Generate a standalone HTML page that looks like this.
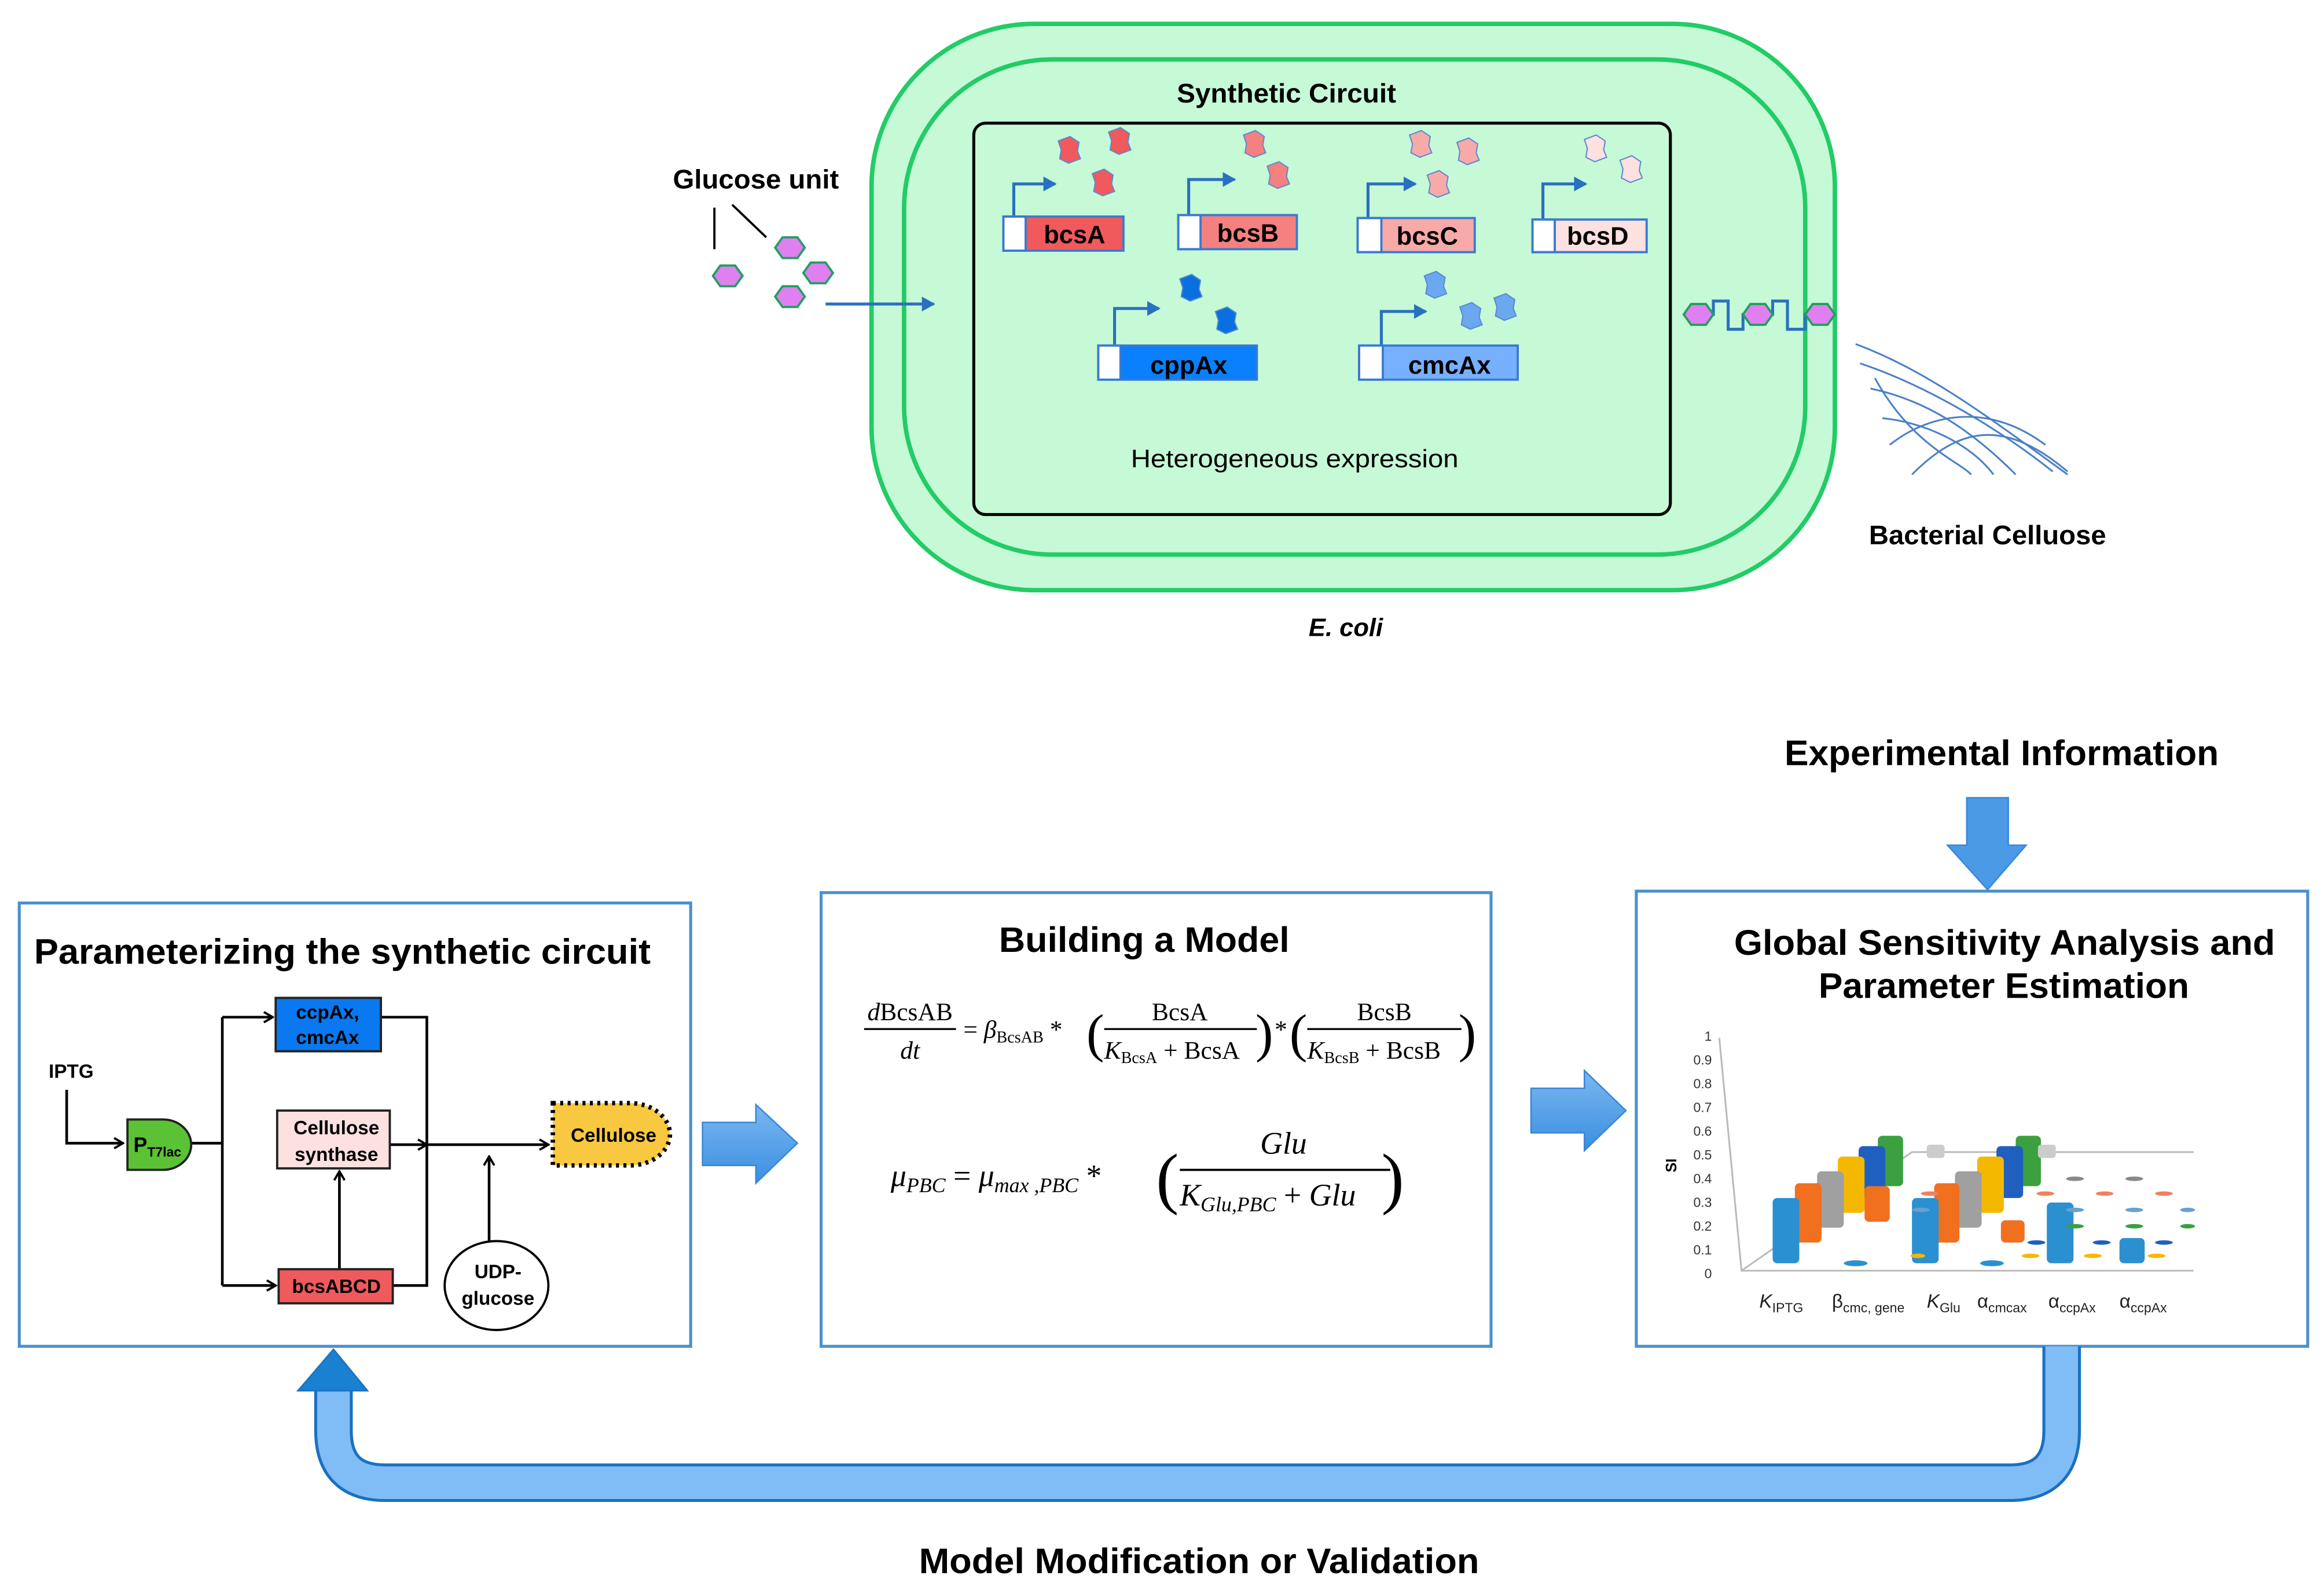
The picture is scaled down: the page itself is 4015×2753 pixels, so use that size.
<!DOCTYPE html>
<html><head><meta charset="utf-8"><style>html,body{margin:0;padding:0;background:#fff}svg{display:block}</style></head>
<body>
<svg xmlns="http://www.w3.org/2000/svg" width="4015" height="2753" viewBox="0 0 1568 1075" font-family="'Liberation Sans', sans-serif">
<defs>
<path id="blob" d="M-7,-6 L1,-9 L7,-5 L6,1 L8,6 L0,9 L-6,6 L-5,0 Z"/>
<polygon id="hex" points="-10,0 -5,-7 5,-7 10,0 5,7 -5,7"/>
<linearGradient id="ba" x1="0" y1="0" x2="0" y2="1"><stop offset="0" stop-color="#7ab8f2"/><stop offset="1" stop-color="#3b8ee0"/></linearGradient>
<linearGradient id="bv" x1="0" y1="0" x2="0" y2="1"><stop offset="0" stop-color="#0a7ad0"/><stop offset="1" stop-color="#88bdf8"/></linearGradient>
<marker id="ah" markerWidth="8" markerHeight="8" refX="7" refY="4" orient="auto" markerUnits="userSpaceOnUse"><path d="M1,0.5 L7,4 L1,7.5" fill="none" stroke="#000" stroke-width="1.5"/></marker>
<marker id="bh" markerWidth="10" markerHeight="10" refX="8" refY="5" orient="auto" markerUnits="userSpaceOnUse"><path d="M0,0 L9,5 L0,10 Z" fill="#2a70c0"/></marker>
</defs>

<!-- Cell -->
<rect x="588" y="16" width="650" height="382" rx="110" fill="#c6f9d6" stroke="#22cc66" stroke-width="3"/>
<rect x="610" y="40" width="608" height="334" rx="100" fill="#c6f9d6" stroke="#22cc66" stroke-width="3"/>
<rect x="657" y="83" width="470" height="264" rx="8" fill="#c6f9d6" stroke="#000" stroke-width="2"/>
<text x="794" y="69" font-size="18" font-weight="bold" textLength="148" lengthAdjust="spacingAndGlyphs">Synthetic Circuit</text>

<!-- promoter arrows -->
<g fill="none" stroke="#2a70c0" stroke-width="2" marker-end="url(#bh)">
<path d="M684,146 V124 H712"/><path d="M802,145 V121 H833"/><path d="M923,147 V124 H955"/><path d="M1041,148 V124 H1070"/>
<path d="M752,233 V208 H782"/><path d="M932,233 V210 H962"/>
</g>
<!-- genes -->
<g stroke="#3a7ad0" stroke-width="1.5">
<rect x="677" y="146" width="81" height="23" fill="#f05a5c"/><rect x="677" y="146" width="15" height="23" fill="#fff"/>
<rect x="795" y="145" width="80" height="23" fill="#f58080"/><rect x="795" y="145" width="15" height="23" fill="#fff"/>
<rect x="916" y="147" width="79" height="23" fill="#f8aaa8"/><rect x="916" y="147" width="16" height="23" fill="#fff"/>
<rect x="1034" y="148" width="77" height="22" fill="#fde0e0"/><rect x="1034" y="148" width="15" height="22" fill="#fff"/>
<rect x="741" y="233" width="107" height="23" fill="#0a80ff"/><rect x="741" y="233" width="15" height="23" fill="#fff"/>
<rect x="917" y="233" width="107" height="23" fill="#77b0ff"/><rect x="917" y="233" width="16" height="23" fill="#fff"/>
</g>
<g font-size="17" font-weight="bold" text-anchor="middle">
<text x="725" y="164">bcsA</text><text x="842" y="163">bcsB</text><text x="963" y="165">bcsC</text><text x="1078" y="165">bcsD</text>
<text x="802" y="252">cppAx</text><text x="978" y="252">cmcAx</text>
</g>
<!-- proteins -->
<g stroke="#5a8ad0" stroke-width="0.8">
<use href="#blob" x="721" y="101" fill="#f05a5c"/><use href="#blob" x="755" y="95" fill="#f05a5c"/><use href="#blob" x="744" y="123" fill="#f05a5c"/>
<use href="#blob" x="846" y="97" fill="#f58080"/><use href="#blob" x="862" y="118" fill="#f58080"/>
<use href="#blob" x="958" y="97" fill="#f8aaa8"/><use href="#blob" x="990" y="102" fill="#f8aaa8"/><use href="#blob" x="970" y="124" fill="#f8aaa8"/>
<use href="#blob" x="1076" y="100" fill="#fde0e0"/><use href="#blob" x="1100" y="114" fill="#fde0e0"/>
<use href="#blob" x="803" y="194" fill="#0a70e0"/><use href="#blob" x="827" y="216" fill="#0a70e0"/>
<use href="#blob" x="968" y="192" fill="#6aa8f0"/><use href="#blob" x="992" y="213" fill="#6aa8f0"/><use href="#blob" x="1015" y="207" fill="#6aa8f0"/>
</g>
<text x="763" y="315" font-size="17" textLength="221" lengthAdjust="spacingAndGlyphs">Heterogeneous expression</text>

<!-- glucose -->
<text x="454" y="127" font-size="18" font-weight="bold" textLength="112" lengthAdjust="spacingAndGlyphs">Glucose unit</text>
<g stroke="#000" stroke-width="1.5"><line x1="482" y1="140" x2="482" y2="168"/><line x1="494" y1="138" x2="517" y2="160"/></g>
<g fill="#e080f0" stroke="#20a060" stroke-width="1.5">
<use href="#hex" x="491" y="186"/><use href="#hex" x="533" y="167"/><use href="#hex" x="552" y="184"/><use href="#hex" x="533" y="200"/>
</g>
<line x1="557" y1="205" x2="630" y2="205" stroke="#2a70c0" stroke-width="2" marker-end="url(#bh)"/>
<path d="M1146,212 H1156 V203 H1166 V222 H1176 V212 H1196 V203 H1206 V222 H1218 V212 H1228" fill="none" stroke="#2a70c0" stroke-width="2"/>
<g fill="#e080f0" stroke="#20a060" stroke-width="1.5"><use href="#hex" x="1146" y="212"/><use href="#hex" x="1186" y="212"/><use href="#hex" x="1228" y="212"/></g>
<g fill="none" stroke="#4a80c8" stroke-width="1.2">
<path d="M1252,232 C1300,250 1340,280 1395,320"/><path d="M1255,245 C1300,260 1350,290 1385,318"/>
<path d="M1262,262 C1300,270 1330,290 1360,320"/><path d="M1270,282 C1300,285 1330,300 1345,320"/>
<path d="M1275,300 C1300,280 1340,270 1380,300"/><path d="M1265,255 C1290,300 1320,310 1330,320"/>
<path d="M1290,320 C1320,290 1350,280 1395,318"/>
</g>
<text x="1261" y="367" font-size="18" font-weight="bold" textLength="160" lengthAdjust="spacingAndGlyphs">Bacterial Celluose</text>
<text x="908" y="429" font-size="17" font-weight="bold" font-style="italic" text-anchor="middle">E. coli</text>

<!-- Bottom boxes -->
<g fill="#fff" stroke="#4a90d0" stroke-width="2">
<rect x="13" y="609" width="453" height="299"/><rect x="554" y="602" width="452" height="306"/><rect x="1104" y="601" width="453" height="307"/>
</g>
<text x="23" y="650" font-size="24" font-weight="bold" textLength="416" lengthAdjust="spacingAndGlyphs">Parameterizing the synthetic circuit</text>
<text x="674" y="642" font-size="24" font-weight="bold" textLength="196" lengthAdjust="spacingAndGlyphs">Building a Model</text>
<text x="1170" y="644" font-size="24" font-weight="bold" textLength="365" lengthAdjust="spacingAndGlyphs">Global Sensitivity Analysis and</text>
<text x="1227" y="673" font-size="24" font-weight="bold" textLength="250" lengthAdjust="spacingAndGlyphs">Parameter Estimation</text>
<text x="1204" y="516" font-size="24" font-weight="bold" textLength="293" lengthAdjust="spacingAndGlyphs">Experimental Information</text>
<text x="620" y="1061" font-size="24" font-weight="bold" textLength="378" lengthAdjust="spacingAndGlyphs">Model Modification or Validation</text>

<!-- block arrows -->
<g fill="url(#ba)" stroke="#3a86d8" stroke-width="1">
<path d="M474,757 H510 V745 L538,771 L510,798 V786 H474 Z"/>
<path d="M1033,734 H1069 V722 L1097,749 L1069,776 V764 H1033 Z"/>
<path d="M1327,538 H1355 V570 H1367 L1341,600 L1314,570 H1327 Z" fill="#4a9ae6"/>
</g>
<!-- feedback arrow -->
<path d="M1391,908 V965 Q1391,1000 1356,1000 H260 Q225,1000 225,965 V935" fill="none" stroke="#1a70c0" stroke-width="26"/>
<path d="M1391,908 V965 Q1391,1000 1356,1000 H260 Q225,1000 225,965 V935" fill="none" stroke="#80bcf6" stroke-width="22"/>
<path d="M1391,908 V950" stroke="url(#bv)" stroke-width="22"/>
<path d="M225,938 V975" stroke="url(#bv)" stroke-width="22"/>
<path d="M201,938 L225,910 L248,938 Z" fill="#1a80d0" stroke="#1a70c0" stroke-width="1"/>

<!-- circuit diagram -->
<g fill="none" stroke="#000" stroke-width="1.8">
<path d="M45,735 V771 H83" marker-end="url(#ah)"/>
<path d="M129,771 H150"/>
<path d="M150,686 V867"/>
<path d="M150,686 H184" marker-end="url(#ah)"/>
<path d="M150,867 H186" marker-end="url(#ah)"/>
<path d="M257,686 H288 V867 H265"/>
<path d="M263,772 H288" marker-end="url(#ah)"/>
<path d="M288,772 H370" marker-end="url(#ah)"/>
<path d="M229,856 V790" marker-end="url(#ah)"/>
<path d="M330,837 V780" marker-end="url(#ah)"/>
</g>
<rect x="186" y="673" width="71" height="36" fill="#0a78f0" stroke="#222" stroke-width="1.5"/>
<rect x="187" y="749" width="76" height="39" fill="#fde0e0" stroke="#222" stroke-width="1.5"/>
<rect x="188" y="856" width="77" height="23" fill="#f05a5c" stroke="#222" stroke-width="1.5"/>
<path d="M86,755 H110 A19,17 0 0 1 110,789 H86 Z" fill="#5bc236" stroke="#222" stroke-width="1.5"/>
<path d="M373,744 H425 A27,21 0 0 1 425,786 H373 Z" fill="#f8c840" stroke="#000" stroke-width="3" stroke-dasharray="2,3"/>
<ellipse cx="335" cy="867" rx="35" ry="30" fill="#fff" stroke="#000" stroke-width="1.5"/>
<g font-size="13" font-weight="bold" text-anchor="middle">
<text x="221" y="687">ccpAx,</text><text x="221" y="704">cmcAx</text>
<text x="227" y="765">Cellulose</text><text x="227" y="783">synthase</text>
<text x="227" y="872">bcsABCD</text>
<text x="414" y="770">Cellulose</text>
<text x="336" y="862">UDP-</text><text x="336" y="880">glucose</text>
<text x="48" y="727">IPTG</text>
</g>
<text x="90" y="777" font-size="14" font-weight="bold">P<tspan font-size="9" dy="3">T7lac</tspan></text>

<!-- equations -->
<g font-family="'Liberation Serif', serif" font-size="17">
<text x="614" y="688" text-anchor="middle"><tspan font-style="italic">d</tspan>BcsAB</text>
<line x1="583" y1="694" x2="645" y2="694" stroke="#000" stroke-width="1.3"/>
<text x="614" y="714" text-anchor="middle" font-style="italic">dt</text>
<text x="650" y="700">= <tspan font-style="italic">β</tspan><tspan font-size="11" dy="3">BcsAB</tspan><tspan dy="-3"> * </tspan></text>
<text x="733" y="709" font-size="36">(</text>
<text x="796" y="688" text-anchor="middle">BcsA</text>
<line x1="745" y1="694" x2="848" y2="694" stroke="#000" stroke-width="1.3"/>
<text x="745" y="714"><tspan font-style="italic">K</tspan><tspan font-size="11" dy="3">BcsA</tspan><tspan dy="-3"> + BcsA</tspan></text>
<text x="847" y="709" font-size="36">)</text>
<text x="860" y="700">*</text>
<text x="870" y="709" font-size="36">(</text>
<text x="934" y="688" text-anchor="middle">BcsB</text>
<line x1="882" y1="694" x2="986" y2="694" stroke="#000" stroke-width="1.3"/>
<text x="882" y="714"><tspan font-style="italic">K</tspan><tspan font-size="11" dy="3">BcsB</tspan><tspan dy="-3"> + BcsB</tspan></text>
<text x="984" y="709" font-size="36">)</text>
<g font-size="21" font-style="italic">
<text x="601" y="800">μ<tspan font-size="14" dy="4">PBC</tspan><tspan dy="-4" font-style="normal"> = </tspan>μ<tspan font-size="14" dy="4">max ,PBC</tspan><tspan dy="-4" font-style="normal"> * </tspan></text>
<text x="780" y="810" font-size="46" font-style="normal">(</text>
<text x="866" y="778" text-anchor="middle">Glu</text>
<line x1="796" y1="789" x2="938" y2="789" stroke="#000" stroke-width="1.5"/>
<text x="796" y="813">K<tspan font-size="14" dy="4">Glu,PBC</tspan><tspan dy="-4" font-style="normal"> + </tspan>Glu</text>
<text x="932" y="810" font-size="46" font-style="normal">)</text>
</g>
</g>

<!-- 3D chart -->
<g font-size="9" fill="#333" text-anchor="end">
<text x="1155" y="702">1</text><text x="1155" y="718">0.9</text><text x="1155" y="734">0.8</text><text x="1155" y="750">0.7</text>
<text x="1155" y="766">0.6</text><text x="1155" y="782">0.5</text><text x="1155" y="798">0.4</text><text x="1155" y="814">0.3</text>
<text x="1155" y="830">0.2</text><text x="1155" y="846">0.1</text><text x="1155" y="862">0</text>
</g>
<text x="1131" y="786" font-size="10" font-weight="bold" transform="rotate(-90 1131 786)" text-anchor="middle">SI</text>
<g stroke="#bbb" stroke-width="1.2" fill="none">
<path d="M1160,700 L1175,857 H1480"/><path d="M1175,857 L1290,777 H1480"/>
</g>
<g stroke="none">
<rect x="1267" y="766" width="17" height="34" rx="3" fill="#3aa040"/><rect x="1360" y="766" width="17" height="34" rx="3" fill="#3aa040"/>
<rect x="1254" y="773" width="18" height="35" rx="3" fill="#1f5fc0"/><rect x="1347" y="773" width="18" height="35" rx="3" fill="#1f5fc0"/>
<rect x="1240" y="780" width="18" height="38" rx="3" fill="#f5b800"/><rect x="1334" y="780" width="18" height="38" rx="3" fill="#f5b800"/>
<rect x="1226" y="790" width="18" height="38" rx="3" fill="#a0a0a0"/><rect x="1319" y="790" width="18" height="38" rx="3" fill="#a0a0a0"/>
<rect x="1300" y="772" width="12" height="9" rx="2" fill="#ccc"/><rect x="1375" y="772" width="12" height="9" rx="2" fill="#ccc"/>
<rect x="1211" y="798" width="18" height="40" rx="3" fill="#f07020"/><rect x="1258" y="800" width="17" height="24" rx="3" fill="#f07020"/>
<rect x="1305" y="798" width="17" height="40" rx="3" fill="#f07020"/><rect x="1350" y="823" width="16" height="15" rx="3" fill="#f07020"/>
<rect x="1196" y="808" width="18" height="44" rx="3" fill="#2a90d0"/><rect x="1290" y="808" width="18" height="44" rx="3" fill="#2a90d0"/>
<rect x="1381" y="811" width="18" height="41" rx="3" fill="#2a90d0"/><rect x="1430" y="835" width="17" height="17" rx="3" fill="#2a90d0"/>
</g>
<g>
<ellipse cx="1252" cy="852" rx="8" ry="2" fill="#2a90d0"/><ellipse cx="1344" cy="852" rx="8" ry="2" fill="#2a90d0"/>
<g fill="#888"><ellipse cx="1400" cy="795" rx="6" ry="1.5"/><ellipse cx="1440" cy="795" rx="6" ry="1.5"/></g>
<g fill="#f08060"><ellipse cx="1302" cy="805" rx="6" ry="1.5"/><ellipse cx="1380" cy="805" rx="6" ry="1.5"/><ellipse cx="1420" cy="805" rx="6" ry="1.5"/><ellipse cx="1460" cy="805" rx="6" ry="1.5"/></g>
<g fill="#6aa0d0"><ellipse cx="1296" cy="816" rx="6" ry="1.5"/><ellipse cx="1400" cy="816" rx="6" ry="1.5"/><ellipse cx="1440" cy="816" rx="6" ry="1.5"/><ellipse cx="1476" cy="816" rx="5" ry="1.5"/></g>
<g fill="#3aa040"><ellipse cx="1400" cy="827" rx="6" ry="1.5"/><ellipse cx="1440" cy="827" rx="6" ry="1.5"/><ellipse cx="1476" cy="827" rx="5" ry="1.5"/></g>
<g fill="#1f5fc0"><ellipse cx="1374" cy="838" rx="6" ry="1.5"/><ellipse cx="1418" cy="838" rx="6" ry="1.5"/><ellipse cx="1460" cy="838" rx="6" ry="1.5"/></g>
<g fill="#f5b800"><ellipse cx="1294" cy="847" rx="5" ry="1.5"/><ellipse cx="1370" cy="847" rx="6" ry="1.5"/><ellipse cx="1412" cy="847" rx="6" ry="1.5"/><ellipse cx="1455" cy="847" rx="6" ry="1.5"/></g>
</g>
<g font-family="'Liberation Sans', sans-serif" font-size="13" fill="#222">
<text x="1187" y="882"><tspan font-style="italic">K</tspan><tspan font-size="9" dy="3">IPTG</tspan></text>
<text x="1236" y="882">β<tspan font-size="9" dy="3">cmc, gene</tspan></text>
<text x="1300" y="882"><tspan font-style="italic">K</tspan><tspan font-size="9" dy="3">Glu</tspan></text>
<text x="1334" y="882">α<tspan font-size="9" dy="3">cmcax</tspan></text>
<text x="1382" y="882">α<tspan font-size="9" dy="3">ccpAx</tspan></text>
<text x="1430" y="882">α<tspan font-size="9" dy="3">ccpAx</tspan></text>
</g>
</svg>
</body></html>
